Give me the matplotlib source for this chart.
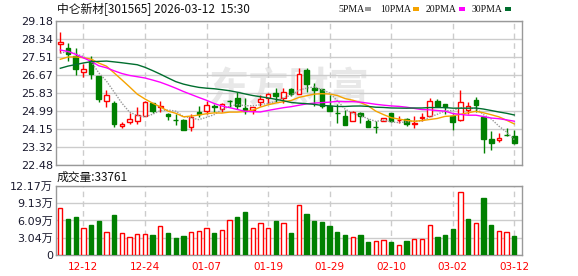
import matplotlib
matplotlib.use('Agg')
import matplotlib.pyplot as plt
from matplotlib.patches import Rectangle
import numpy as np

plt.rcParams['font.family'] = ['DejaVu Sans', 'Noto Sans CJK SC']

# ---------------- data ----------------
dates = ['12-09', '12-10', '12-11', '12-12', '12-15', '12-16', '12-17', '12-18', '12-19', '12-22',
         '12-23', '12-24', '12-25', '12-26', '12-29', '12-30', '12-31', '01-05', '01-06', '01-07',
         '01-08', '01-09', '01-12', '01-13', '01-14', '01-15', '01-16', '01-19', '01-20', '01-21',
         '01-22', '01-23', '01-26', '01-27', '01-28', '01-29', '01-30', '02-02', '02-03', '02-04',
         '02-05', '02-06', '02-09', '02-10', '02-11', '02-12', '02-13', '02-24', '02-25', '02-26',
         '02-27', '03-02', '03-03', '03-04', '03-05', '03-06', '03-09', '03-10', '03-11', '03-12']

opens = [28.12, 27.92, 27.57, 26.82, 27.37, 26.62, 25.44, 25.37, 24.28, 24.50,
         24.54, 24.75, 25.35, 25.19, 24.87, 24.58, 24.57, 24.24, 24.93, 25.01,
         25.22, 25.07, 25.47, 25.58, 25.15, 25.03, 25.43, 25.61, 25.83, 25.58,
         26.02, 25.80, 26.90, 26.08, 26.02, 25.24, 24.90, 24.76, 24.54, 24.91,
         24.53, 24.26, 24.53, 24.90, 24.57, 24.62, 24.39, 24.68, 24.75, 25.46,
         25.32, 24.77, 24.56, 25.03, 25.50, 24.70, 23.69, 23.63, 23.88, 23.83]
highs = [28.65, 28.16, 27.91, 27.18, 27.55, 26.62, 25.97, 25.46, 24.47, 24.91,
         25.17, 25.46, 25.38, 25.46, 24.90, 24.84, 24.62, 24.85, 25.24, 25.46,
         25.30, 25.37, 25.49, 25.89, 25.58, 25.17, 25.74, 25.82, 26.08, 26.08,
         26.08, 27.01, 27.01, 26.28, 26.03, 25.74, 25.30, 25.03, 24.99, 24.95,
         24.62, 24.53, 24.65, 24.92, 24.76, 24.65, 24.77, 24.89, 25.60, 25.55,
         25.32, 24.87, 25.97, 25.40, 25.64, 24.70, 24.06, 23.97, 24.19, 24.10]
lows = [27.69, 27.33, 26.67, 26.56, 26.47, 25.43, 25.19, 24.26, 24.22, 24.39,
        24.39, 24.75, 24.90, 24.96, 24.59, 24.34, 24.09, 24.06, 24.73, 24.84,
        24.95, 24.96, 25.17, 25.10, 24.84, 24.87, 25.24, 25.37, 25.40, 25.35,
        25.69, 25.78, 25.86, 25.21, 25.15, 24.98, 24.45, 24.33, 24.54, 24.42,
        24.23, 23.98, 24.52, 24.50, 24.42, 24.31, 24.22, 24.53, 24.74, 25.18,
        24.85, 24.11, 24.55, 24.87, 24.96, 23.05, 23.19, 23.56, 23.83, 23.44]
closes = [28.20, 27.65, 26.93, 26.95, 26.73, 25.57, 25.74, 24.37, 24.39, 24.62,
          24.81, 25.40, 24.99, 25.24, 24.75, 24.56, 24.11, 24.70, 24.84, 25.27,
          25.20, 25.30, 25.45, 25.24, 25.01, 25.17, 25.55, 25.78, 25.69, 25.86,
          25.77, 26.71, 26.25, 25.98, 25.23, 24.99, 24.88, 24.34, 24.95, 24.75,
          24.24, 24.25, 24.65, 24.53, 24.59, 24.40, 24.42, 24.70, 25.44, 25.24,
          25.19, 24.50, 25.40, 25.23, 25.27, 23.70, 23.52, 23.72, 23.86, 23.52]
volumes = [83700, 63200, 66700, 46800, 52700, 59700, 40400, 70200, 38000, 31000,
           36300, 36300, 35100, 50300, 38600, 29800, 33400, 39800, 41500, 46800,
           38600, 43300, 60900, 66700, 75500, 46800, 57300, 46800, 59700, 57300,
           38600, 88900, 72000, 59700, 57900, 50900, 40400, 35100, 31000, 35100,
           22800, 24600, 25700, 22800, 17000, 24600, 27500, 27500, 52100, 31600,
           35100, 45600, 111800, 63200, 56200, 100100, 52700, 41500, 40400, 33761]
# closes before the visible window (only used for the moving averages)
prior_closes = [24.6, 24.8, 24.7, 25.0, 25.1, 25.3, 25.5, 25.6, 26.0, 26.2,
                29.0, 29.6, 30.2, 30.0, 29.7, 27.6, 27.2, 26.9, 26.4, 26.0,
                26.6, 26.9, 27.3, 27.4, 27.4, 27.2, 27.5, 27.6, 27.9]

price_ticks = [22.48, 23.32, 24.15, 24.99, 25.83, 26.67, 27.51, 28.34, 29.18]
price_labels = ['22.48', '23.32', '24.15', '24.99', '25.83', '26.67', '27.51', '28.34', '29.18']
vol_ticks = [0, 30400, 60900, 91300, 121700]
vol_labels = ['0', '3.04万', '6.09万', '9.13万', '12.17万']
date_ticks = ['12-12', '12-24', '01-07', '01-19', '01-29', '02-10', '03-02', '03-12']
ma_periods = [5, 10, 20, 30]
ma_names = ['5PMA', '10PMA', '20PMA', '30PMA']
ma_colors = ['#999999', '#f5a300', '#ff00ff', '#006e2e']

title = '中仑新材[301565] 2026-03-12  15:30'
vol_title = '成交量:33761'

# ---------------- figure ----------------
W, H = 578, 276
fig = plt.figure(figsize=(W / 100, H / 100), dpi=100)
fig.patch.set_facecolor('white')

L, R = 56, 522
ax = fig.add_axes([L / W, 1 - 165 / H, (R - L) / W, (165 - 21) / H])
axv = fig.add_axes([L / W, 1 - 255 / H, (R - L) / W, (255 - 186) / H])
ov = fig.add_axes([0, 0, 1, 1])
ov.set_xlim(0, W)
ov.set_ylim(H, 0)
ov.axis('off')

RED = '#ff0000'
GREEN = '#008000'
n = len(closes)
x = np.arange(n)
tick_pos = [dates.index(d) for d in date_ticks]

for a in (ax, axv):
    a.set_xlim(-0.56, n)
    for s in a.spines.values():
        s.set_color('#999999')
        s.set_linewidth(1)
    a.set_xticks(tick_pos)
    a.grid(axis='x', color='#cccccc', linestyle=(0, (4, 3)), linewidth=1)
    a.grid(axis='y', color='#cccccc', linestyle='-', linewidth=1)
    a.set_axisbelow(True)
    a.tick_params(length=0)

# watermark
ax.text(289, 90, '东方财富', transform=ov.transData, fontsize=29, color='#e8e8e8',
        ha='center', va='center', family=['Noto Sans CJK SC'], fontweight='bold', zorder=0.5)

# candles
o = np.array(opens); c = np.array(closes); h = np.array(highs); lo = np.array(lows)
up = c >= o
cols = np.where(up, RED, GREEN)
ax.vlines(x, lo, h, colors=cols, linewidth=1, zorder=2)
body_bottom = np.minimum(o, c)
body_h = np.maximum(np.abs(c - o), 0.012)
ax.bar(x, body_h, bottom=body_bottom, width=0.6,
       facecolor=np.where(up, 'white', GREEN), edgecolor=cols, linewidth=1, zorder=3)

# moving averages
allc = np.array(prior_closes + closes)
offset = len(prior_closes)
for p, col in zip(ma_periods, ma_colors):
    ma = np.array([allc[offset + i - p + 1: offset + i + 1].mean() for i in range(n)])
    ls = (0, (1, 1)) if p == 5 else '-'
    ax.plot(x, ma, color=col, linewidth=1, linestyle=ls, zorder=4)

ax.set_ylim(price_ticks[0], price_ticks[-1])
ax.set_yticks(price_ticks)
ax.set_yticklabels(price_labels, fontsize=8, color='#1a1a2e')
ax.tick_params(axis='y', pad=2)
ax.set_xticklabels([])

# volume
prev = np.concatenate([[prior_closes[-1]], c[:-1]])
vup = c >= prev
vcols = np.where(vup, RED, GREEN)
axv.bar(x, volumes, width=0.56, facecolor=np.where(vup, 'white', GREEN),
        edgecolor=vcols, linewidth=1, zorder=3)
axv.set_ylim(0, vol_ticks[-1])
axv.set_yticks(vol_ticks)
axv.set_yticklabels(vol_labels, fontsize=8, color='#1a1a2e')
axv.tick_params(axis='y', pad=2)
axv.set_xticklabels(date_ticks, fontsize=7.5, color=RED)
axv.tick_params(axis='x', pad=5)

# texts
ov.text(57, 10, title, fontsize=8.5, va='center', ha='left', color='#111111',
        family=['Noto Sans CJK SC', 'DejaVu Sans'])
ov.text(57, 177, vol_title, fontsize=8.5, va='center', ha='left', color='#111111',
        family=['Noto Sans CJK SC', 'DejaVu Sans'])

leg_x = [338, 380, 426, 472]
sq_x = [365, 413, 459, 505]
for name, col, lx, sx in zip(ma_names, ma_colors, leg_x, sq_x):
    ov.text(lx, 9, name, fontsize=7, va='center', ha='left', color='#111111',
            family=['Liberation Serif'])
    ov.add_patch(Rectangle((sx, 7), 6, 4, facecolor=col, edgecolor='none'))

fig.savefig('out.png', dpi=100, facecolor='white')
